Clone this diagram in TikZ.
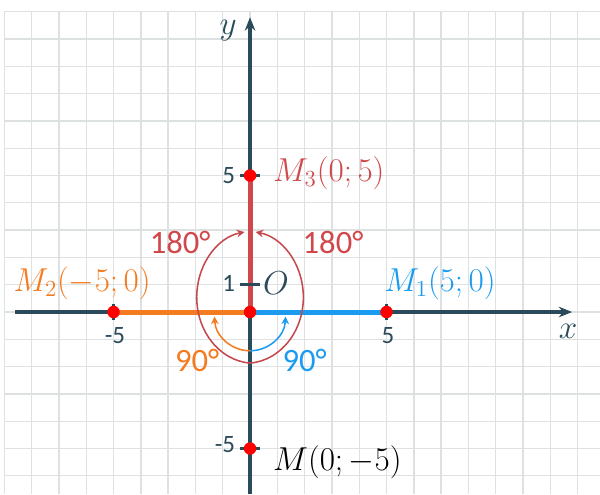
\documentclass[tikz,border=0pt]{standalone}
\usepackage{fontspec}
\newfontfamily\tickfont{Carlito}
\usetikzlibrary{arrows.meta}

\definecolor{axiscol}{HTML}{2B4A5A}
\definecolor{gridcol}{HTML}{DEE1E1}
\definecolor{orangecol}{HTML}{F47B20}
\definecolor{bluecol}{HTML}{1A9BF0}
\definecolor{redcol}{HTML}{D0484B}
\definecolor{arccol}{HTML}{C4494E}

\begin{document}
\begin{tikzpicture}[scale=0.5,
    axis/.style={line width=2pt, draw=axiscol},
    seg/.style={line width=2.6pt},
    tick/.style={line width=1.6pt, draw=axiscol},
    ticklabel/.style={font=\tickfont\fontsize{13}{14}\selectfont, text=axiscol},
    ptlabel/.style={font=\fontsize{16.5}{18}\selectfont},
    deglabel/.style={font=\tickfont\fontsize{17}{19}\selectfont},
    turn/.style={line width=0.8pt, -{Stealth[length=4pt,width=4pt]}},
    pt/.style={circle, fill=red, inner sep=0pt, minimum size=6.5pt}]
    \useasboundingbox (-9.16,-6.67) rectangle (12.82,11.43);

    % Grid
    \foreach \i in {-9,...,12}
        \draw[gridcol, line width=0.7pt] (\i,-6.67) -- (\i,11);
    \foreach \j in {-6,...,11}
        \draw[gridcol, line width=0.7pt] (-9,\j) -- (12.82,\j);

    % Axes
    \draw[axis, -{Stealth[length=7pt,width=5.5pt]}] (-8.6,0) -- (11.8,0);
    \draw[axis, -{Stealth[length=7pt,width=5.5pt]}] (0,-6.67) -- (0,10.8);
    \node[font=\fontsize{17}{19}\selectfont, text=axiscol] (xlab) at (11.65,-0.7) {$x$};
    \node[font=\fontsize{17}{19}\selectfont, text=axiscol] (ylab) at (-0.8,10.3) {$y$};

    % Coloured segments
    \draw[seg, orangecol] (-5,0) -- (0,0);
    \draw[seg, bluecol] (0,0) -- (5,0);
    \draw[seg, redcol] (0,0) -- (0,5);

    % Ticks
    \draw[tick] (-5,-0.3) -- (-5,0.3);
    \draw[tick] (5,-0.3) -- (5,0.3);
    \draw[tick] (-0.35,5) -- (0.35,5);
    \draw[tick] (-0.35,1) -- (0.35,1);
    \draw[tick] (-0.35,-5) -- (0.35,-5);
    \node[ticklabel] (tm5x) at (-4.95,-0.85) {-5};
    \node[ticklabel] (t5x) at (5.05,-0.85) {5};
    \node[ticklabel, anchor=east] (t5y) at (-0.3,5) {5};
    \node[ticklabel, anchor=east] (t1y) at (-0.3,1.05) {1};
    \node[ticklabel, anchor=east] (tm5y) at (-0.3,-4.85) {-5};

    % Turning arcs
    \draw[turn, arccol] (0,-1.87) arc[start angle=266, end angle=99.6, x radius=2.1, y radius=2.42];
    \draw[turn, arccol] (0,-1.87) arc[start angle=-86, end angle=80.4, x radius=2.1, y radius=2.42];
    \draw[turn, orangecol] (0,-1.42) arc[start angle=270, end angle=182, radius=1.3];
    \draw[turn, bluecol] (0,-1.42) arc[start angle=-90, end angle=-2, radius=1.3];
    \node[deglabel, text=redcol] (turnl) at (-2.56,2.55) {180°};
    \node[deglabel, text=redcol] (turnr) at (3.04,2.55) {180°};
    \node[deglabel, text=orangecol] (quartl) at (-1.94,-1.76) {90°};
    \node[deglabel, text=bluecol] (quartr) at (2.0,-1.76) {90°};

    % Points
    \node[pt] (O) at (0,0) {};
    \node[pt] (M1) at (5,0) {};
    \node[pt] (M2) at (-5,0) {};
    \node[pt] (M3) at (0,5) {};
    \node[pt] (M) at (0,-5) {};

    % Labels
    \node[ptlabel, text=axiscol] (olab) at (0.95,1.06) {$O$};
    \node[ptlabel, text=bluecol] (m1lab) at (6.96,1.06) {$M_1(5;0)$};
    \node[ptlabel, text=orangecol] (m2lab) at (-6.15,1.06) {$M_2(-5;0)$};
    \node[ptlabel, text=redcol, anchor=west] (m3lab) at (0.6,5.1) {$M_3(0;5)$};
    \node[ptlabel, anchor=west] (mlab) at (0.6,-5.5) {$M(0;-5)$};
\end{tikzpicture}
\end{document}
